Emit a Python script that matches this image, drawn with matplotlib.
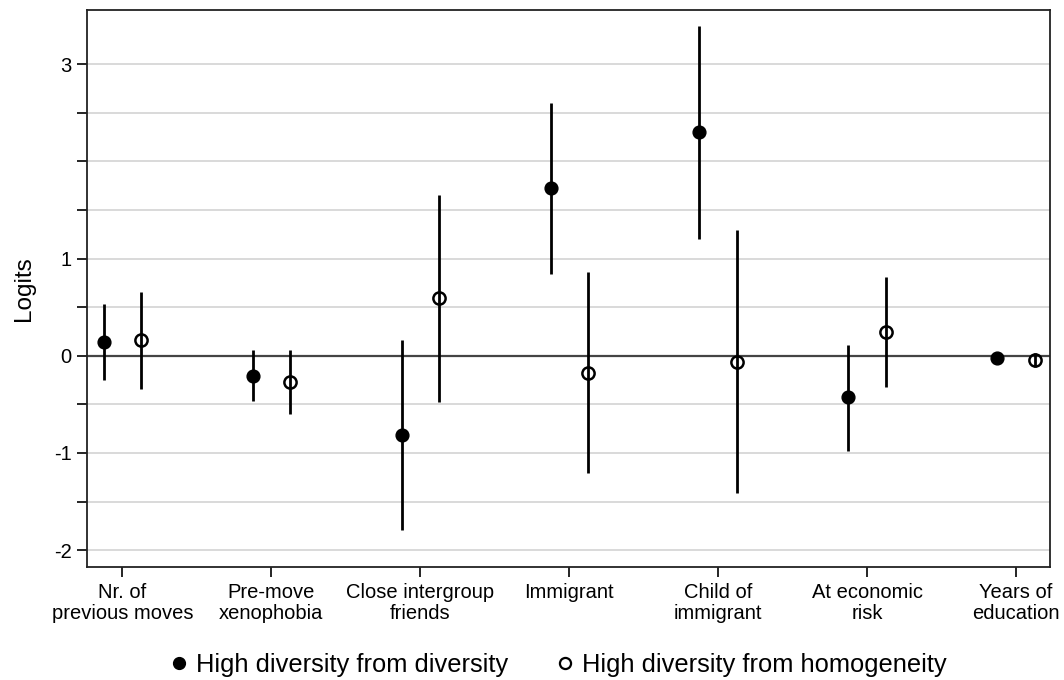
import matplotlib
matplotlib.use("Agg")
import matplotlib.pyplot as plt
from matplotlib.lines import Line2D
import numpy as np

plt.rcParams['font.family'] = ['Liberation Sans', 'DejaVu Sans']

categories = ["Nr. of\nprevious moves", "Pre-move\nxenophobia", "Close intergroup\nfriends",
              "Immigrant", "Child of\nimmigrant", "At economic\nrisk", "Years of\neducation"]

div_est = [0.144, -0.205, -0.816, 1.722, 2.298, -0.428, -0.02]
div_lo = [-0.25, -0.466, -1.79, 0.84, 1.204, -0.977, -0.06]
div_hi = [0.535, 0.06, 0.16, 2.597, 3.39, 0.11, 0.02]

hom_est = [0.16, -0.27, 0.597, -0.175, -0.062, 0.247, -0.044]
hom_lo = [-0.34, -0.60, -0.473, -1.21, -1.416, -0.325, -0.12]
hom_hi = [0.66, 0.06, 1.653, 0.864, 1.293, 0.806, 0.03]

ytick_vals = [-2, -1.5, -1, -0.5, 0, 0.5, 1, 1.5, 2, 2.5, 3]
ytick_labels = ["-2", "", "-1", "", "0", "", "1", "", "", "", "3"]

legend_labels = ["High diversity from diversity", "High diversity from homogeneity"]

fig = plt.figure(figsize=(10.64, 6.8), dpi=100)
ax = fig.add_axes([0.0818, 0.1666, 0.9050, 0.8187])

x = np.arange(1, len(categories) + 1)
off = 0.125

for yv in ytick_vals:
    if yv != 0:
        ax.axhline(yv, color='#d3d3d3', lw=1.2, zorder=0)
ax.axhline(0, color='#444444', lw=1.6, zorder=1)

ax.vlines(x - off, div_lo, div_hi, color='black', lw=2.0, zorder=2)
ax.plot(x - off, div_est, 'o', color='black', ms=9.2, zorder=3, linestyle='none')
ax.vlines(x + off, hom_lo, hom_hi, color='black', lw=2.0, zorder=2)
ax.plot(x + off, hom_est, 'o', mfc='none', mec='black', mew=1.8, ms=8.8, zorder=4,
        linestyle='none')

ax.set_xlim(0.763, 7.228)
ax.set_ylim(-2.17, 3.556)
ax.set_xticks(x)
ax.set_xticklabels(categories, fontsize=14.5, linespacing=1.08)
ax.set_yticks(ytick_vals)
ax.set_yticklabels(ytick_labels, fontsize=14.5)
ax.tick_params(axis='both', direction='out', length=7, width=1.2, color='black')
ax.tick_params(axis='x', pad=5)
ax.tick_params(axis='y', pad=4)
for s in ax.spines.values():
    s.set_linewidth(1.3)
    s.set_color('#222222')
ax.set_ylabel("Logits", fontsize=17.5, labelpad=14)

handles = [Line2D([], [], marker='o', color='black', linestyle='none', ms=8.5),
           Line2D([], [], marker='o', mfc='none', mec='black', mew=1.6, linestyle='none', ms=8)]
fig.legend(handles, legend_labels, loc='center', bbox_to_anchor=(0.523, 0.022), ncol=2,
           frameon=False, fontsize=18.4, handletextpad=0.15, columnspacing=1.75,
           handlelength=1.0)

fig.savefig("out.png", dpi=100)
